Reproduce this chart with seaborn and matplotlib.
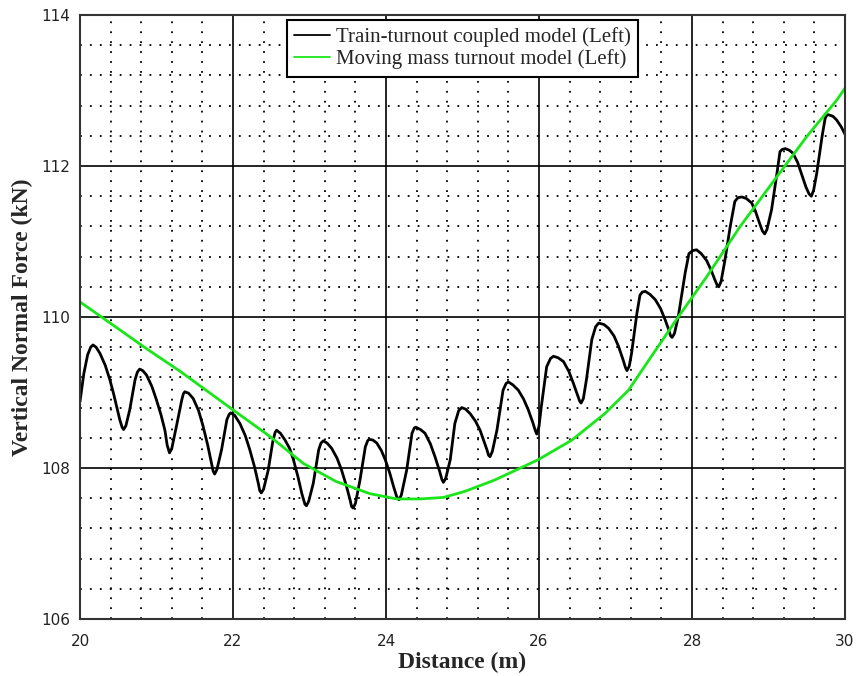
import numpy as np
import pandas as pd
import seaborn as sns
import matplotlib
matplotlib.use("Agg")
import matplotlib.pyplot as plt
from matplotlib.ticker import MultipleLocator

# ---- data ----
coupled_points = [
    (20.00, 108.88), (20.05, 109.25), (20.10, 109.50), (20.14, 109.60), (20.17, 109.63), (20.21, 109.60),
    (20.26, 109.52), (20.33, 109.36), (20.39, 109.17), (20.44, 108.98), (20.48, 108.81), (20.52, 108.64),
    (20.55, 108.54), (20.57, 108.51), (20.60, 108.56), (20.65, 108.77), (20.72, 109.17), (20.75, 109.27),
    (20.78, 109.31), (20.82, 109.29), (20.87, 109.23), (20.94, 109.08), (21.00, 108.90), (21.06, 108.70),
    (21.11, 108.50), (21.14, 108.30), (21.17, 108.20), (21.20, 108.26), (21.26, 108.55), (21.33, 108.90),
    (21.35, 108.98), (21.37, 109.01), (21.42, 108.99), (21.48, 108.92), (21.55, 108.76), (21.61, 108.55),
    (21.67, 108.30), (21.72, 108.06), (21.74, 107.96), (21.76, 107.92), (21.79, 107.98), (21.85, 108.24),
    (21.92, 108.64), (21.95, 108.71), (21.97, 108.73), (22.02, 108.70), (22.09, 108.59), (22.16, 108.43),
    (22.22, 108.24), (22.28, 108.02), (22.33, 107.80), (22.35, 107.70), (22.37, 107.67), (22.40, 107.72),
    (22.46, 107.97), (22.52, 108.35), (22.55, 108.47), (22.57, 108.50), (22.62, 108.46), (22.68, 108.37),
    (22.74, 108.26), (22.79, 108.11), (22.85, 107.88), (22.90, 107.66), (22.94, 107.52), (22.96, 107.50),
    (22.99, 107.56), (23.05, 107.80), (23.12, 108.24), (23.15, 108.33), (23.18, 108.36), (23.23, 108.33),
    (23.29, 108.26), (23.36, 108.13), (23.42, 107.97), (23.48, 107.77), (23.53, 107.58), (23.55, 107.49),
    (23.57, 107.47), (23.60, 107.53), (23.66, 107.84), (23.73, 108.28), (23.76, 108.36), (23.78, 108.38),
    (23.83, 108.37), (23.88, 108.33), (23.94, 108.23), (23.99, 108.11), (24.05, 107.93), (24.10, 107.75),
    (24.14, 107.62), (24.17, 107.58), (24.20, 107.64), (24.27, 107.97), (24.34, 108.46), (24.37, 108.53),
    (24.39, 108.54), (24.45, 108.51), (24.51, 108.46), (24.58, 108.32), (24.64, 108.15), (24.70, 107.96),
    (24.73, 107.85), (24.75, 107.81), (24.78, 107.86), (24.84, 108.11), (24.90, 108.59), (24.95, 108.76),
    (24.99, 108.80), (25.04, 108.78), (25.10, 108.72), (25.17, 108.62), (25.23, 108.50), (25.32, 108.24),
    (25.34, 108.17), (25.36, 108.15), (25.39, 108.22), (25.45, 108.50), (25.53, 109.03), (25.57, 109.12),
    (25.60, 109.14), (25.66, 109.10), (25.73, 109.03), (25.80, 108.91), (25.86, 108.77), (25.92, 108.60),
    (25.95, 108.50), (25.97, 108.45), (26.00, 108.55), (26.03, 108.81), (26.10, 109.34), (26.15, 109.45),
    (26.19, 109.48), (26.25, 109.46), (26.32, 109.41), (26.39, 109.28), (26.45, 109.12), (26.51, 108.95),
    (26.53, 108.89), (26.55, 108.86), (26.58, 108.92), (26.62, 109.17), (26.69, 109.70), (26.74, 109.87),
    (26.78, 109.92), (26.85, 109.90), (26.91, 109.85), (26.98, 109.75), (27.04, 109.61), (27.10, 109.43),
    (27.13, 109.33), (27.15, 109.29), (27.18, 109.35), (27.21, 109.52), (27.28, 110.05), (27.32, 110.29),
    (27.35, 110.33), (27.39, 110.34), (27.45, 110.30), (27.52, 110.23), (27.59, 110.11), (27.65, 109.96),
    (27.70, 109.82), (27.72, 109.75), (27.74, 109.73), (27.77, 109.78), (27.82, 110.00), (27.91, 110.58),
    (27.96, 110.84), (28.01, 110.88), (28.06, 110.89), (28.12, 110.84), (28.19, 110.75), (28.25, 110.62),
    (28.30, 110.49), (28.33, 110.42), (28.35, 110.40), (28.38, 110.47), (28.43, 110.75), (28.50, 111.20),
    (28.56, 111.53), (28.60, 111.58), (28.65, 111.59), (28.71, 111.57), (28.78, 111.51), (28.83, 111.40),
    (28.87, 111.28), (28.92, 111.14), (28.95, 111.10), (28.98, 111.16), (29.04, 111.42), (29.11, 111.90),
    (29.15, 112.19), (29.18, 112.22), (29.22, 112.23), (29.27, 112.21), (29.32, 112.17), (29.38, 112.05),
    (29.43, 111.90), (29.49, 111.72), (29.53, 111.63), (29.56, 111.60), (29.59, 111.68), (29.63, 111.90),
    (29.70, 112.39), (29.74, 112.63), (29.76, 112.67), (29.78, 112.68), (29.84, 112.66), (29.89, 112.61),
    (29.95, 112.52), (30.00, 112.42),
]
coupled_x = [p[0] for p in coupled_points]
coupled_y = [p[1] for p in coupled_points]

moving_x = [20.00, 20.52, 20.87, 21.31, 22.00, 22.48, 22.92, 23.35, 23.79, 24.14, 24.44, 24.75, 25.03, 25.42,
            25.99, 26.43, 26.86, 27.17, 27.45, 27.82, 28.19, 28.63, 29.06, 29.50, 29.89, 30.00]
moving_y = [110.20, 109.83, 109.58, 109.28, 108.77, 108.42, 108.06, 107.82, 107.66, 107.59, 107.59, 107.61, 107.69, 107.84,
            108.11, 108.37, 108.72, 109.03, 109.45, 110.00, 110.53, 111.20, 111.79, 112.39, 112.87, 113.03]

label_coupled = "Train-turnout coupled model (Left)"
label_moving = "Moving mass turnout model (Left)"
x_label = "Distance (m)"
y_label = "Vertical Normal Force (kN)"

df = pd.concat([
    pd.DataFrame({"x": coupled_x, "y": coupled_y, "model": label_coupled}),
    pd.DataFrame({"x": moving_x, "y": moving_y, "model": label_moving}),
])

sns.set_style("white")
plt.rcParams["font.family"] = ["DejaVu Sans"]

fig = plt.figure(figsize=(8.59, 6.76), dpi=100)
ax = fig.add_axes([80 / 859, 1 - 619 / 676, 765 / 859, 604 / 676])

sns.lineplot(data=df, x="x", y="y", hue="model",
             palette={label_coupled: "black", label_moving: "#19e619"},
             linewidth=2.0, ax=ax, legend=True, solid_joinstyle="round")

ax.set_xlim(20, 30)
ax.set_ylim(106, 114)
ax.xaxis.set_major_locator(MultipleLocator(2))
ax.yaxis.set_major_locator(MultipleLocator(2))
ax.xaxis.set_minor_locator(MultipleLocator(0.4))
ax.yaxis.set_minor_locator(MultipleLocator(0.4))
ax.grid(which="major", color="black", linewidth=1.2, linestyle="-")
ax.grid(which="minor", color="black", linewidth=1.3, linestyle=(0, (1, 4.5)))
ax.set_axisbelow(True)
ax.tick_params(which="both", length=0)
ax.tick_params(axis="y", labelsize=11, colors="#222222", pad=7)
ax.tick_params(axis="x", labelsize=11, colors="#222222", pad=11)
for s in ax.spines.values():
    s.set_color("#333333")
    s.set_linewidth(1.5)

ax.set_xlabel(x_label, fontsize=17, fontweight="bold", family="Liberation Serif", labelpad=2)
ax.set_ylabel(y_label, fontsize=17, fontweight="bold", family="Liberation Serif", labelpad=6)

leg = ax.legend(loc="upper center", bbox_to_anchor=(0.5, 0.992), frameon=True, fancybox=False,
                edgecolor="black", framealpha=1, prop={"family": "Liberation Serif", "size": 15},
                handlelength=1.7, handletextpad=0.3, borderpad=0.35, labelspacing=0.12, borderaxespad=0)
leg.get_frame().set_linewidth(1.5)
for h in leg.get_lines():
    h.set_linewidth(1.3)

fig.savefig("out.png", dpi=100)
